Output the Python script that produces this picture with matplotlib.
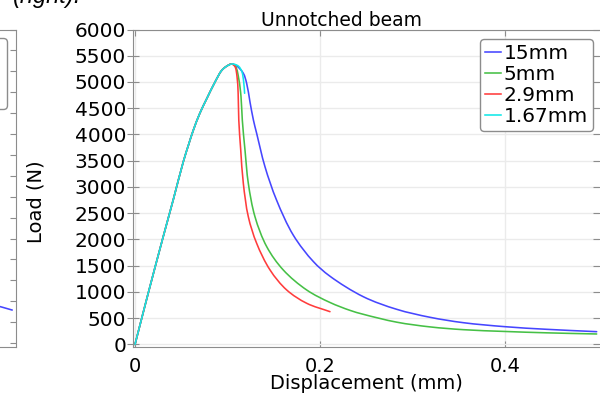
import matplotlib
matplotlib.use("Agg")
import matplotlib.pyplot as plt
import numpy as np
from matplotlib.path import Path
from matplotlib.patches import PathPatch
from matplotlib.lines import Line2D

# ---- data (displacement in mm, load in N) ----
rise_x = [0.0, 0.013, 0.0306, 0.0414, 0.0522, 0.058, 0.063, 0.070, 0.0775, 0.0865, 0.0937,
          0.099, 0.1045]
rise_y = [0, 890, 2060, 2760, 3480, 3810, 4080, 4400, 4680, 5000, 5220, 5300, 5343]

tail_15_x = [0.110, 0.1171, 0.1207, 0.1243, 0.128, 0.1315, 0.1405, 0.153, 0.1712, 0.1928,
             0.2108, 0.2468, 0.2829, 0.3189, 0.355, 0.400, 0.445, 0.4991]
tail_15_y = [5305, 5166, 4975, 4620, 4276, 4023, 3387, 2752, 2080, 1580,
             1300, 910, 670, 518, 415, 339, 289, 244]

tail_5_x = [0.1088, 0.1124, 0.1146, 0.116, 0.1189, 0.1225, 0.1297, 0.1424, 0.1603, 0.1856,
            0.2108, 0.2324, 0.2468, 0.2829, 0.3189, 0.355, 0.400, 0.445, 0.4991]
tail_5_y = [5292, 5038, 4720, 4276, 3705, 3070, 2434, 1863, 1419, 1038,
            800, 650, 575, 425, 335, 282, 248, 222, 200]

tail_29_x = [0.1081, 0.1103, 0.1115, 0.1122, 0.1143, 0.1171, 0.1225, 0.1315, 0.146, 0.164,
             0.1856, 0.2108]
tail_29_y = [5292, 5101, 4785, 4276, 3705, 3070, 2434, 1928, 1419, 1038, 785, 625]

tail_167_x = [0.108, 0.112, 0.1155, 0.1175, 0.1185]
tail_167_y = [5335, 5300, 5200, 5000, 4785]

labels = ["15mm", "5mm", "2.9mm", "1.67mm"]
colors = ["#4646ff", "#46c046", "#ff3c3c", "#10e8e8"]
tails = [(tail_15_x, tail_15_y), (tail_5_x, tail_5_y),
         (tail_29_x, tail_29_y), (tail_167_x, tail_167_y)]

# neighbouring panel (only its right edge is in view)
notched_x = [0.44, 0.47, 0.4915]
notched_y = [190, 172, 158]

W, H = 600, 396
LW = 1.15
fig = plt.figure(figsize=(W / 100, H / 100), dpi=100)


def fx(px):
    return px / W


def fy(py):
    return 1 - py / H


def smooth_curve(ax, xs, ys, **kw):
    """Draw a centripetal Catmull-Rom curve through the points as cubic Beziers."""
    data = np.column_stack([xs, ys]).astype(float)
    disp = ax.transData.transform(data)
    P = np.vstack([2 * disp[0] - disp[1], disp, 2 * disp[-1] - disp[-2]])
    verts = [disp[0]]
    codes = [Path.MOVETO]
    for i in range(1, len(P) - 2):
        p0, p1, p2, p3 = P[i - 1], P[i], P[i + 1], P[i + 2]
        d1 = max(np.linalg.norm(p1 - p0), 1e-9) ** 0.5
        d2 = max(np.linalg.norm(p2 - p1), 1e-9) ** 0.5
        d3 = max(np.linalg.norm(p3 - p2), 1e-9) ** 0.5
        b1 = (d1 ** 2 * p2 - d2 ** 2 * p0 + (2 * d1 ** 2 + 3 * d1 * d2 + d2 ** 2) * p1) / (3 * d1 * (d1 + d2))
        b2 = (d3 ** 2 * p1 - d2 ** 2 * p3 + (2 * d3 ** 2 + 3 * d3 * d2 + d2 ** 2) * p2) / (3 * d3 * (d3 + d2))
        verts += [b1, b2, p2]
        codes += [Path.CURVE4] * 3
    verts = ax.transData.inverted().transform(np.array(verts))
    patch = PathPatch(Path(verts, codes), fill=False, capstyle="round",
                      joinstyle="round", **kw)
    ax.add_patch(patch)
    return patch


grey = "#8c8c8c"
grid_c = "#ebebeb"

# ---- left (notched) panel, mostly outside the figure ----
axl = fig.add_axes([fx(-220), fy(347), fx(16) - fx(-220), fy(29.5) - fy(347)])
axl.plot(notched_x, notched_y, color=colors[0], lw=LW)
axl.set_xlim(0, 0.5)
axl.set_ylim(-19, 1500)
axl.set_yticks(np.arange(0, 1501, 100))
axl.set_xticks([])
axl.yaxis.tick_right()
axl.tick_params(axis="y", direction="in", length=4, color=grey, labelright=False)
axl.spines["left"].set_visible(False)
for s in ["right", "top", "bottom"]:
    axl.spines[s].set_color(grey)
lh = [Line2D([], [], color=c, lw=LW) for c in colors[:3]]
axl.legend(lh, labels[:3], loc="upper right", bbox_to_anchor=(fx(7), fy(38)),
           bbox_transform=fig.transFigure, borderaxespad=0, fontsize=14.5,
           handlelength=0.8, handletextpad=0.15, labelspacing=0.1,
           borderpad=0.25, fancybox=True, framealpha=1, edgecolor=grey)

# ---- main (unnotched) panel ----
ax = fig.add_axes([fx(133), fy(347), fx(599) - fx(133), fy(29.5) - fy(347)])
ax.set_xlim(-0.00216, 0.5016)
ax.set_ylim(-48, 6000)

handles = []
for lab, col, (tx, ty) in zip(labels, colors, tails):
    smooth_curve(ax, rise_x + tx, rise_y + ty, edgecolor=col, lw=LW)
    handles.append(Line2D([], [], color=col, lw=LW, label=lab))

ax.set_xticks([0, 0.2, 0.4])
ax.set_xticklabels(["0", "0.2", "0.4"])
ax.set_yticks(np.arange(0, 6001, 500))
ax.grid(True, color=grid_c, lw=1)
ax.set_axisbelow(True)

ax.tick_params(axis="y", which="both", left=True, right=True, direction="inout",
               length=8, color=grey, labelsize=14.5, pad=1)
ax.tick_params(axis="x", which="both", bottom=True, top=True, direction="in",
               length=4, color=grey, labelsize=14, pad=7)
ax.spines["right"].set_visible(False)
for s in ["left", "bottom", "top"]:
    ax.spines[s].set_color(grey)

ax.set_xlabel("Displacement (mm)", fontsize=14)
ax.xaxis.set_label_coords(0.5, -0.085)
ax.set_ylabel("Load (N)", fontsize=14)
ax.yaxis.set_label_coords((46 - 133) / 466, (347 - 202) / 317.5)

fig.text(fx(342), fy(26), "Unnotched beam", fontsize=13.5, ha="center", va="baseline")

ax.legend(handles=handles, loc="upper right", bbox_to_anchor=(fx(593), fy(39)),
          bbox_transform=fig.transFigure, borderaxespad=0, fontsize=14.5,
          handlelength=0.8, handletextpad=0.15, labelspacing=0.1,
          borderpad=0.25, fancybox=True, framealpha=1, edgecolor=grey)

# caption fragment from the surrounding text
fig.text(fx(13), fy(3.5), "(right).", fontsize=17, style="italic",
         family="Liberation Sans", ha="left", va="baseline")

fig.savefig("out.png", dpi=100)
